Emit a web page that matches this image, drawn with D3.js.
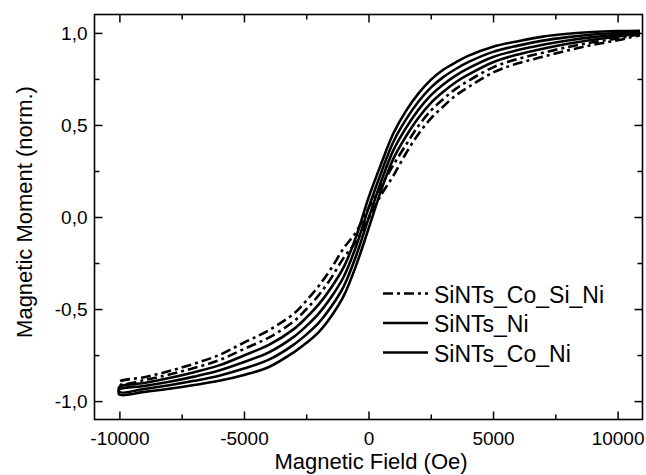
<!DOCTYPE html>
<html>
<head>
	<meta charset="utf-8">
	<title>Hysteresis loops</title>
	<script src="https://cdn.jsdelivr.net/npm/d3@7"></script>
	<style>
		body {
			margin: 0;
			background: #fff;
			font-family: "Liberation Sans", Arial, Helvetica, sans-serif;
		}
	</style>
</head>

<body>

	<div id="chart"></div>

	<script>

		// data

		const field = [-10000, -9000, -8000, -7000, -6000, -5000, -4000, -3000, -2500, -2000, -1500, -1000, -500, 0,
			500, 1000, 1500, 2000, 2500, 3000, 3500, 4000, 5000, 6000, 7000, 8000, 9000, 10000, 10900];

		// descending branch (from +H to -H) and ascending branch, one value per field point
		const coSiNiDown = [-0.895, -0.870, -0.837, -0.797, -0.750, -0.682, -0.615, -0.525, -0.455, -0.375, -0.280, -0.170, -0.082, 0.048,
			0.166, 0.283, 0.391, 0.494, 0.577, 0.640, 0.696, 0.739, 0.813, 0.859, 0.892, 0.923, 0.949, 0.970, 0.993];
		const coSiNiUp = [-0.909, -0.886, -0.856, -0.820, -0.778, -0.717, -0.655, -0.567, -0.501, -0.425, -0.332, -0.222, -0.134, -0.008,
			0.118, 0.225, 0.345, 0.450, 0.535, 0.600, 0.660, 0.705, 0.785, 0.835, 0.870, 0.905, 0.935, 0.960, 0.988];

		const niDown = [-0.923, -0.902, -0.875, -0.843, -0.806, -0.752, -0.695, -0.609, -0.547, -0.475, -0.384, -0.274, -0.108, 0.104,
			0.286, 0.455, 0.575, 0.670, 0.745, 0.800, 0.840, 0.875, 0.925, 0.955, 0.980, 0.995, 1.005, 1.010, 1.012];
		const niUp = [-0.951, -0.934, -0.914, -0.890, -0.862, -0.823, -0.775, -0.693, -0.639, -0.575, -0.488, -0.378, -0.212, -0.008,
			0.190, 0.363, 0.483, 0.582, 0.661, 0.720, 0.768, 0.807, 0.869, 0.907, 0.936, 0.959, 0.977, 0.990, 1.002];

		const coNiDown = [-0.937, -0.918, -0.895, -0.867, -0.834, -0.788, -0.735, -0.651, -0.593, -0.525, -0.436, -0.326, -0.160, 0.048,
			0.238, 0.409, 0.529, 0.626, 0.703, 0.760, 0.804, 0.841, 0.897, 0.931, 0.958, 0.977, 0.991, 1.000, 1.007];
		const coNiUp = [-0.965, -0.950, -0.933, -0.913, -0.890, -0.858, -0.815, -0.735, -0.685, -0.625, -0.540, -0.430, -0.264, -0.064,
			0.142, 0.317, 0.437, 0.538, 0.619, 0.680, 0.732, 0.773, 0.841, 0.883, 0.914, 0.941, 0.963, 0.980, 0.998];

		const seriesNames = ["SiNTs_Co_Si_Ni", "SiNTs_Ni", "SiNTs_Co_Ni"];

		const xMajorTicks = [-10000, -5000, 0, 5000, 10000];
		const xMinorTicks = [-7500, -2500, 2500, 7500];
		const yMajorTicks = [-1.0, -0.5, 0.0, 0.5, 1.0];
		const yMinorTicks = [-0.75, -0.25, 0.25, 0.75];

		const xLabel = "Magnetic Field (Oe)";
		const yLabel = "Magnetic Moment (norm.)";

		// layout

		const width = 646;
		const height = 475;
		const marginLeft = 94.5;
		const marginRight = 3.5;
		const marginTop = 14.5;
		const marginBottom = 55.5;
		const dashes = ["10,4,3,4", null, null];

		function hysteresisChart(container) {
			const xScale = d3.scaleLinear([-11000, 11000], [marginLeft, width - marginRight]);
			const yScale = d3.scaleLinear([-1.1, 1.1], [height - marginBottom, marginTop]);

			const svg = d3.select(container)
				.append("svg")
				.attr("width", width)
				.attr("height", height)
				.attr("viewBox", [0, 0, width, height])
				.style("display", "block");

			const bottomY = height - marginBottom;
			const rightX = width - marginRight;
			const commaFmt = v => v.toFixed(1).replace(".", ",");

			// ticks on all four sides, pointing inwards
			const axes = [
				{ make: () => d3.axisBottom(xScale), pos: `translate(0,${bottomY})`, major: xMajorTicks, minor: xMinorTicks, fmt: v => String(v), pad: 12 },
				{ make: () => d3.axisTop(xScale), pos: `translate(0,${marginTop})`, major: xMajorTicks, minor: xMinorTicks, fmt: null },
				{ make: () => d3.axisLeft(yScale), pos: `translate(${marginLeft},0)`, major: yMajorTicks, minor: yMinorTicks, fmt: commaFmt, pad: 7 },
				{ make: () => d3.axisRight(yScale), pos: `translate(${rightX},0)`, major: yMajorTicks, minor: yMinorTicks, fmt: null },
			];

			axes.forEach(a => {
				const major = a.make()
					.tickValues(a.major)
					.tickSize(-8)
					.tickPadding(a.pad || 0)
					.tickFormat(a.fmt || (() => ""));
				svg.append("g")
					.attr("transform", a.pos)
					.call(major)
					.call(g => g.select(".domain").remove())
					.call(g => g.selectAll(".tick line").attr("stroke", "#000").attr("stroke-width", 1.5))
					.call(g => g.selectAll(".tick text")
						.attr("fill", "#000")
						.style("font-size", "19px")
						.style("font-family", "'Liberation Sans', Arial, sans-serif"));

				const minor = a.make()
					.tickValues(a.minor)
					.tickSize(-5)
					.tickFormat(() => "");
				svg.append("g")
					.attr("transform", a.pos)
					.call(minor)
					.call(g => g.select(".domain").remove())
					.call(g => g.selectAll(".tick line").attr("stroke", "#000").attr("stroke-width", 1.5));
			});

			// frame
			svg.append("rect")
				.attr("x", marginLeft)
				.attr("y", marginTop)
				.attr("width", rightX - marginLeft)
				.attr("height", bottomY - marginTop)
				.attr("fill", "none")
				.attr("stroke", "#000")
				.attr("stroke-width", 1.6);

			// loops: descending branch then ascending branch as one path
			const loops = [
				[coSiNiDown, coSiNiUp],
				[niDown, niUp],
				[coNiDown, coNiUp],
			];

			const line = d3.line()
				.curve(d3.curveCatmullRom.alpha(0.5))
				.x(d => xScale(d[0]))
				.y(d => yScale(d[1]));

			loops.forEach(([down, up], k) => {
				const pts = field.map((h, i) => [h, down[i]]).reverse()
					.concat(field.map((h, i) => [h, up[i]]));
				svg.append("path")
					.attr("d", line(pts))
					.attr("fill", "none")
					.attr("stroke", "#000")
					.attr("stroke-width", 2.6)
					.attr("stroke-linejoin", "round")
					.attr("stroke-dasharray", dashes[k]);
			});

			// legend
			const legend = svg.append("g");
			seriesNames.forEach((name, k) => {
				const yy = 293.5 + k * 29.5;
				legend.append("line")
					.attr("x1", 383)
					.attr("x2", 428)
					.attr("y1", yy)
					.attr("y2", yy)
					.attr("stroke", "#000")
					.attr("stroke-width", 2.4)
					.attr("stroke-dasharray", dashes[k]);
				legend.append("text")
					.attr("x", 434)
					.attr("y", yy + 9)
					.attr("fill", "#000")
					.style("font-size", "23px")
					.text(name);
			});

			// axis titles
			svg.append("text")
				.attr("x", 371)
				.attr("y", 469)
				.attr("text-anchor", "middle")
				.attr("fill", "#000")
				.style("font-size", "22px")
				.text(xLabel);

			svg.append("text")
				.attr("transform", "translate(32,212) rotate(-90)")
				.attr("text-anchor", "middle")
				.attr("fill", "#000")
				.style("font-size", "22px")
				.text(yLabel);

			return svg.node();
		}

		hysteresisChart("#chart");

	</script>

</body>

</html>
